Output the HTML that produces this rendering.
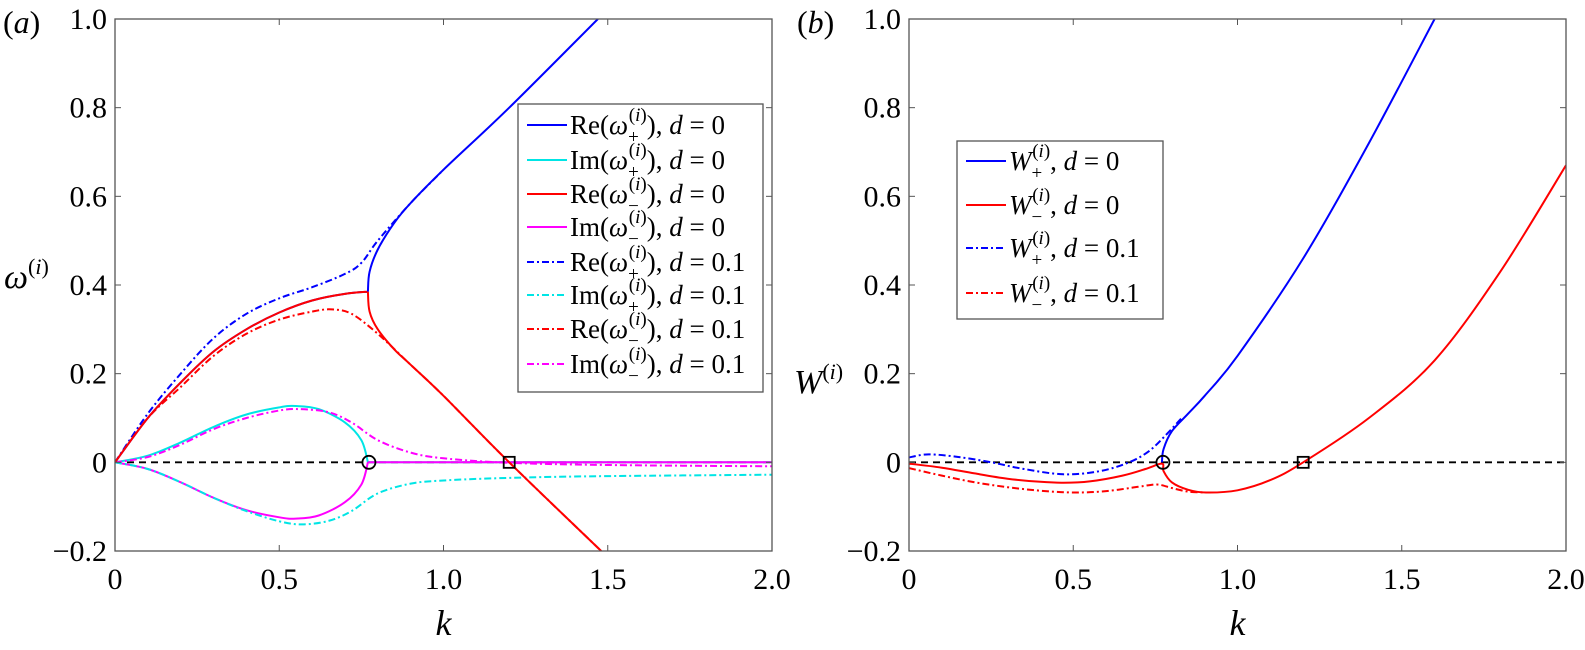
<!DOCTYPE html>
<html><head><meta charset="utf-8"><style>
html,body{margin:0;padding:0;background:#fff;}
svg{display:block;}
text{font-family:"Liberation Serif",serif;}
</style></head><body>
<svg id="fig" width="1585" height="650" viewBox="0 0 1585 650" font-family="Liberation Serif, serif"></svg>
<script>
// ---- data: panel (a) ----
const kRe0 = [0,0.1,0.2,0.3,0.4,0.5,0.6,0.7,0.77];
const reShared0 = [0,0.1,0.18,0.25,0.30,0.338,0.365,0.38,0.385];
const kRePlus0 = [0.77,0.775,0.8,0.85,0.9,1.0,1.2,1.47];
const rePlus0 = [0.385,0.43,0.48,0.54,0.585,0.66,0.8,1.0];
const kReMinus0 = [0.77,0.775,0.8,0.85,0.9,1.0,1.2,1.48];
const reMinus0 = [0.385,0.34,0.3,0.255,0.22,0.15,0.0,-0.2];
const kRePlus1 = [0,0.1,0.2,0.3,0.4,0.5,0.6,0.7,0.75,0.8,0.9,1.0];
const rePlus1 = [0,0.11,0.2,0.28,0.335,0.37,0.395,0.425,0.45,0.5,0.585,0.66];
const kReMinus1 = [0,0.1,0.2,0.3,0.4,0.5,0.6,0.66,0.72,0.8,0.9,1.0,1.2,1.48];
const reMinus1 = [0,0.1,0.17,0.24,0.29,0.322,0.34,0.345,0.335,0.29,0.22,0.15,0,-0.2];
const kLoop = [0,0.1,0.2,0.3,0.4,0.5,0.55,0.62,0.7,0.75,0.77];
const imLoop0 = [0,0.015,0.045,0.08,0.108,0.124,0.127,0.12,0.09,0.05,0];
const kTail0 = [0.77,2.0];
const imTail0 = [0,0];
const kImM1 = [0,0.1,0.2,0.3,0.4,0.5,0.56,0.65,0.72,0.8,0.9,1.0,1.2,1.5,2.0];
const imMinus1 = [0,0.012,0.04,0.075,0.1,0.117,0.12,0.113,0.09,0.05,0.022,0.009,-0.001,-0.006,-0.009];
const kImP1 = [0,0.1,0.2,0.3,0.4,0.5,0.57,0.65,0.72,0.8,0.9,1.0,1.2,1.5,2.0];
const imPlus1 = [0,-0.015,-0.045,-0.08,-0.11,-0.133,-0.14,-0.132,-0.11,-0.07,-0.048,-0.041,-0.035,-0.031,-0.028];
// ---- data: panel (b) ----
const kWp0 = [0.77,0.775,0.8,0.85,0.9,1.0,1.2,1.4,1.6];
const wPlus0 = [0,0.03,0.07,0.11,0.15,0.24,0.46,0.72,1.0];
const kWp1 = [0,0.06,0.15,0.25,0.35,0.47,0.58,0.67,0.73,0.78,0.83];
const wPlus1 = [0.011,0.018,0.012,0.0,-0.015,-0.027,-0.02,0.0,0.025,0.06,0.1];
const kWm0 = [0,0.1,0.2,0.3,0.4,0.47,0.55,0.65,0.72,0.77,0.775,0.8,0.85,0.905,1.0,1.1,1.2,1.4,1.6,1.8,2.0];
const wMinus0 = [-0.003,-0.012,-0.025,-0.037,-0.044,-0.046,-0.043,-0.03,-0.015,-0.003,-0.02,-0.045,-0.062,-0.068,-0.063,-0.04,0,0.1,0.23,0.43,0.67];
const kWm1 = [0,0.1,0.2,0.3,0.4,0.5,0.6,0.7,0.755,0.8,0.85,0.905];
const wMinus1 = [-0.013,-0.03,-0.045,-0.056,-0.064,-0.068,-0.065,-0.055,-0.05,-0.058,-0.066,-0.068];
const xTicks = [0,0.5,1.0,1.5,2.0];
const xTickLabels = ["0","0.5","1.0","1.5","2.0"];
const yTicks = [-0.2,0,0.2,0.4,0.6,0.8,1.0];
const yTickLabels = ["\u22120.2","0","0.2","0.4","0.6","0.8","1.0"];
const markCircle = [0.773,0];
const markSquare = [1.2,0];

const NS="http://www.w3.org/2000/svg";
const svg=document.getElementById('fig');
function mk(tag,attrs,parent){const e=document.createElementNS(NS,tag);for(const a in attrs)e.setAttribute(a,attrs[a]);(parent||svg).appendChild(e);return e;}
const Y_TOP=19,Y_BOT=551;
function yS(v){return Y_BOT-(v+0.2)/1.2*(Y_BOT-Y_TOP);}
function smooth(pts){
  let d='M'+pts[0][0].toFixed(1)+' '+pts[0][1].toFixed(1);
  for(let i=0;i<pts.length-1;i++){
    const p0=pts[Math.max(0,i-1)],p1=pts[i],p2=pts[i+1],p3=pts[Math.min(pts.length-1,i+2)];
    const c1=[p1[0]+(p2[0]-p0[0])/6,p1[1]+(p2[1]-p0[1])/6];
    const c2=[p2[0]-(p3[0]-p1[0])/6,p2[1]-(p3[1]-p1[1])/6];
    d+=' C'+c1[0].toFixed(1)+' '+c1[1].toFixed(1)+' '+c2[0].toFixed(1)+' '+c2[1].toFixed(1)+' '+p2[0].toFixed(1)+' '+p2[1].toFixed(1);
  }
  return d;
}
function panel(x0,x1,label,ylabHtml,ylx,yly){
  const xS=v=>x0+v/2*(x1-x0);
  const g=mk('g',{});
  
  
  const clip=mk('clipPath',{id:'c'+label},g);
  mk('rect',{x:x0,y:Y_TOP,width:x1-x0,height:Y_BOT-Y_TOP},clip);
  const plot=mk('g',{'clip-path':'url(#c'+label+')'},g);
  
  
  const line=(ks,vs,color,dash,name)=>{
    const d=smooth(ks.map((k,i)=>[xS(k),yS(vs[i])]));
    const p=mk('path',{d:d,fill:'none',stroke:color,'stroke-width':2,'stroke-dasharray':dash||'none','stroke-linejoin':'round'},plot);
    
    
  };
  const zl=mk('line',{x1:x0,x2:x1,y1:yS(0),y2:yS(0),stroke:'#000','stroke-width':1.8,'stroke-dasharray':'7 5'},plot);
  
  
  g._line=line;g._xS=xS;g._plot=plot;
  const fr=mk('rect',{x:x0,y:Y_TOP,width:x1-x0,height:Y_BOT-Y_TOP,fill:'none',stroke:'#555','stroke-width':1.3},g);
  
  
  xTicks.forEach((t,i)=>{
    mk('line',{x1:xS(t),x2:xS(t),y1:Y_BOT,y2:Y_BOT-6,stroke:'#555'},g);mk('line',{x1:xS(t),x2:xS(t),y1:Y_TOP,y2:Y_TOP+6,stroke:'#555'},g);
    const tx=mk('text',{x:xS(t),y:589,'font-size':30,'text-anchor':'middle'},g);tx.textContent=xTickLabels[i];
    
    
  });
  yTicks.forEach((t,i)=>{
    mk('line',{x1:x0,x2:x0+6,y1:yS(t),y2:yS(t),stroke:'#555'},g);mk('line',{x1:x1,x2:x1-6,y1:yS(t),y2:yS(t),stroke:'#555'},g);
    const tx=mk('text',{x:x0-8,y:yS(t)+10,'font-size':30,'text-anchor':'end'},g);tx.textContent=yTickLabels[i];
    
    
  });
  const xl=mk('text',{x:(x0+x1)/2,y:635,'font-size':36,'font-style':'italic','text-anchor':'middle'},g);xl.textContent='k';
  
  
  const pl=mk('text',{x:x0-112,y:33,'font-size':32},g);pl.innerHTML='(<tspan font-style="italic">'+label+'</tspan>)';
  
  
  const yl=mk('text',{x:ylx,y:yly,'font-size':34},g);yl.innerHTML=ylabHtml;
  
  
  return g;
}
function markers(g){
  const c=mk('circle',{cx:g._xS(markCircle[0]),cy:yS(markCircle[1]),r:6.5,fill:'none',stroke:'#000','stroke-width':1.8},g);
  
  
  const s=mk('rect',{x:g._xS(markSquare[0])-5.5,y:yS(markSquare[1])-5.5,width:11,height:11,fill:'none',stroke:'#000','stroke-width':1.8},g);
  
  
}
const DD='7 3 2 3';
const A=panel(115,772,'a',
 '<tspan font-style="italic">ω</tspan><tspan font-size="22" dy="-14">(<tspan font-style="italic">i</tspan>)</tspan>',4,288);
const neg=a=>a.map(v=>-v);
A._line(kLoop,imLoop0,'#00e5e5','','im-plus-d0');
A._line(kTail0,imTail0,'#00e5e5','','im-plus-d0-tail');
A._line(kLoop,neg(imLoop0),'#ff00ff','','im-minus-d0');
A._line(kTail0,imTail0,'#ff00ff','','im-minus-d0-tail');
A._line(kImM1,imMinus1,'#ff00ff',DD,'im-minus-d01');
A._line(kImP1,imPlus1,'#00e5e5',DD,'im-plus-d01');
A._line(kRePlus1,rePlus1,'#0000ff',DD,'re-plus-d01');
A._line(kReMinus1,reMinus1,'#ff0000',DD,'re-minus-d01');
A._line(kRe0,reShared0,'#0000ff','','re-plus-d0-low');
A._line(kRe0,reShared0,'#ff0000','','re-minus-d0-low');
A._line(kRePlus0,rePlus0,'#0000ff','','re-plus-d0');
A._line(kReMinus0,reMinus0,'#ff0000','','re-minus-d0');
markers(A);
const B=panel(909,1566,'b',
 '<tspan font-style="italic">W</tspan><tspan font-size="22" dy="-14">(<tspan font-style="italic">i</tspan>)</tspan>',794,393);
B._line(kWp1,wPlus1,'#0000ff',DD,'w-plus-d01');
B._line(kWm1,wMinus1,'#ff0000',DD,'w-minus-d01');
B._line(kWp0,wPlus0,'#0000ff','','w-plus-d0');
B._line(kWm0,wMinus0,'#ff0000','','w-minus-d0');
markers(B);
function legend(x,y,w,h,rows,items,name){
  const g=mk('g',{});
  
  
  mk('rect',{x:x,y:y,width:w,height:h,fill:'#fff',stroke:'#555','stroke-width':1.3},g);
  items.forEach((it,i)=>{
    const cy=rows[i];
    const ln=mk('line',{x1:x+9,x2:x+49,y1:cy,y2:cy,stroke:it[0],'stroke-width':2,'stroke-dasharray':it[1]||'none'},g);
    
    
    const t=mk('text',{x:x+52,y:cy+9,'font-size':27},g);t.innerHTML=it[2];
    
    
  });
}
const sub=(s)=>'<tspan font-size="19" dy="9">'+s+'</tspan><tspan font-size="19" dx="-10" dy="-22">(<tspan font-style="italic">i</tspan>)</tspan><tspan dy="13">';
const reIm=(p,s,d)=>p+'(<tspan font-style="italic">ω</tspan>'+sub(s)+'), <tspan font-style="italic">d</tspan> = '+d+'</tspan>';
legend(518,104,245,288,[125,160,194,227,262,295,329,364],[
 ['#0000ff','',reIm('Re','+','0')],['#00e5e5','',reIm('Im','+','0')],
 ['#ff0000','',reIm('Re','−','0')],['#ff00ff','',reIm('Im','−','0')],
 ['#0000ff',DD,reIm('Re','+','0.1')],['#00e5e5',DD,reIm('Im','+','0.1')],
 ['#ff0000',DD,reIm('Re','−','0.1')],['#ff00ff',DD,reIm('Im','−','0.1')]],'legend-a');
const wl=(s,d)=>'<tspan font-style="italic">W</tspan>'+sub(s)+', <tspan font-style="italic">d</tspan> = '+d+'</tspan>';
legend(957,141,206,178,[161,205,248,293],[
 ['#0000ff','',wl('+','0')],['#ff0000','',wl('−','0')],
 ['#0000ff',DD,wl('+','0.1')],['#ff0000',DD,wl('−','0.1')]],'legend-b');
</script>
</body></html>
